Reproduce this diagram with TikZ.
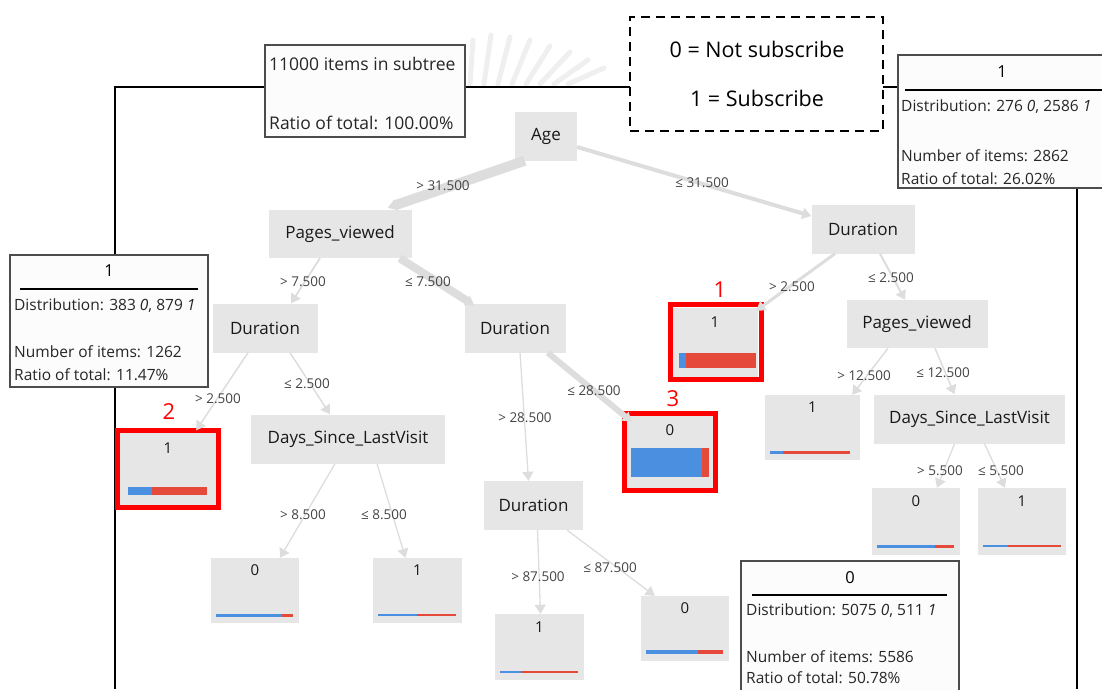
\documentclass[tikz,border=0pt]{standalone}
\usepackage{fontspec}
\setmainfont{Open Sans}
\usetikzlibrary{arrows.meta}
\definecolor{nodegray}{HTML}{E6E6E6}
\definecolor{edgegray}{HTML}{DDDDDD}
\definecolor{barblue}{HTML}{4A8FE0}
\definecolor{barred}{HTML}{E5493A}
\definecolor{labelgray}{HTML}{444444}
\definecolor{infofill}{HTML}{FCFCFC}
\definecolor{fangray}{HTML}{EFEFEF}
\begin{document}
\begin{tikzpicture}[x=1pt,y=-1pt,
  split/.style={fill=nodegray, inner sep=0, font=\fontsize{17}{20}\selectfont, text=black!90},
  leafbox/.style={fill=nodegray, inner sep=0},
  cls/.style={font=\fontsize{15}{17}\selectfont, inner sep=0, text=black!90},
  elab/.style={font=\fontsize{13.5}{15}\selectfont, text=labelgray, inner sep=1},
  conn/.style={draw=edgegray, -{Triangle[length=9pt,width=11pt]}},
  infobox/.style={draw=black!70, line width=1.3, fill=infofill, inner sep=0},
  info/.style={font=\fontsize{15.5}{18}\selectfont, anchor=west, inner sep=0, text=black!85},
  frameline/.style={line width=1.8, black},
  redbox/.style={draw=red, line width=5},
  rednum/.style={text=red, font=\fontsize{22}{25}\selectfont, inner sep=0},
  bar/.style={line width=#1},
]
\useasboundingbox (0,0) rectangle (1102,689);

% faint fan ornament behind the top frame line
\foreach \x/\dx/\ty in {470/3/40,484/7/35,498/12/37,512/18/40,526/24/46,540/30/52,554/34/60,568/36/68}{
  \draw[fangray, line width=5, line cap=round] (\x,84) -- (\x+\dx,\ty);
}

% outer frame
\coordinate (fBL) at (115,689);
\coordinate (fTL) at (115,87);
\coordinate (fTR) at (1077,87);
\coordinate (fBR) at (1077,689);
\draw[frameline] (fBL) -- (fTL) -- (fTR) -- (fBR);

% ---- split nodes ----
\node[split, minimum width=62, minimum height=49] (age) at (546,136) {Age};
\node[split, minimum width=143, minimum height=48] (pvL) at (340,234) {Pages\_viewed};
\node[split, minimum width=103, minimum height=49] (durR) at (863,229) {Duration};
\node[split, minimum width=105, minimum height=49] (durL) at (265,328) {Duration};
\node[split, minimum width=101, minimum height=49] (durM) at (515,328) {Duration};
\node[split, minimum width=141, minimum height=48] (pvR) at (917,324) {Pages\_viewed};
\node[split, minimum width=194, minimum height=49] (dslL) at (348,439) {Days\_Since\_LastVisit};
\node[split, minimum width=191, minimum height=49] (dslR) at (969.5,419) {Days\_Since\_LastVisit};
\node[split, minimum width=99, minimum height=49] (durLo) at (533.5,505.5) {Duration};

% ---- leaves ----
% highlighted leaf 1
\node[leafbox, minimum width=86, minimum height=70] (lfA) at (715,343) {};
\node[cls] (lfAc) at (715,322) {1};
\fill[barblue] (679,353) rectangle (686,368);
\fill[barred] (686,353) rectangle (756,368);
\draw[redbox] (670.5,304.5) rectangle (761.5,379.5);
\node[rednum] (rA) at (720,290) {1};

% highlighted leaf 2
\node[leafbox, minimum width=96, minimum height=73] (lfB) at (168,469) {};
\node[cls] (lfBc) at (168,448) {1};
\fill[barblue] (128,487) rectangle (152,495);
\fill[barred] (152,487) rectangle (207,495);
\draw[redbox] (117.5,430.5) rectangle (218.5,507.5);
\node[rednum] (rB) at (169,412) {2};

% highlighted leaf 3
\node[leafbox, minimum width=86, minimum height=72] (lfC) at (670,452) {};
\node[cls] (lfCc) at (670,430) {0};
\fill[barblue] (631,448) rectangle (702,477);
\fill[barred] (702,448) rectangle (709,477);
\draw[redbox] (624.5,413.5) rectangle (715.5,490.5);
\node[rednum] (rC) at (673,399) {3};

% plain leaves
\node[leafbox, minimum width=95, minimum height=65] (lfD) at (812.5,427.5) {};
\node[cls] (lfDc) at (812.5,407) {1};
\draw[bar=3, barblue] (770,452) -- (783,452);
\draw[bar=3, barred] (783,452) -- (850,452);

\node[leafbox, minimum width=88, minimum height=67] (lfE) at (916,521.5) {};
\node[cls] (lfEc) at (916,501) {0};
\draw[bar=3, barblue] (877,546) -- (935,546);
\draw[bar=3, barred] (935,546) -- (954,546);

\node[leafbox, minimum width=88, minimum height=67] (lfF) at (1022,521.5) {};
\node[cls] (lfFc) at (1022,501) {1};
\draw[bar=2.5, barblue] (983,546) -- (1008,546);
\draw[bar=2.5, barred] (1008,546) -- (1061,546);

\node[leafbox, minimum width=88, minimum height=65] (lfG) at (255,590.5) {};
\node[cls] (lfGc) at (255,570) {0};
\draw[bar=3, barblue] (216,615) -- (282,615);
\draw[bar=3, barred] (282,615) -- (293,615);

\node[leafbox, minimum width=89, minimum height=65] (lfH) at (417.5,590.5) {};
\node[cls] (lfHc) at (417.5,570) {1};
\draw[bar=2.5, barblue] (378,615) -- (417,615);
\draw[bar=2.5, barred] (417,615) -- (456,615);

\node[leafbox, minimum width=89, minimum height=66] (lfI) at (539.5,647) {};
\node[cls] (lfIc) at (539.5,627) {1};
\draw[bar=2.5, barblue] (500,672) -- (521,672);
\draw[bar=2.5, barred] (521,672) -- (578,672);

\node[leafbox, minimum width=88, minimum height=65] (lfJ) at (685,628.5) {};
\node[cls] (lfJc) at (685,608) {0};
\draw[bar=4, barblue] (646,652) -- (698,652);
\draw[bar=4, barred] (698,652) -- (723,652);

% ---- connectors ----
\draw[conn, line width=10] ([xshift=10]age.south west) -- ([xshift=-24,yshift=2]pvL.north east);
\draw[conn, line width=4] ([yshift=-11]age.east) -- ([yshift=13]durR.west);
\draw[conn, line width=1.8] ([xshift=-20]pvL.south) -- ([xshift=26]durL.north);
\draw[conn, line width=8] ([xshift=-12]pvL.south east) -- ([xshift=10,yshift=-2]durM.north west);
\draw[conn, line width=1.5] ([xshift=-17]durL.south) -- ([xshift=-20,yshift=2]lfB.north east);
\draw[conn, line width=1.5] ([xshift=25]durL.south) -- ([xshift=-18]dslL.north);
\draw[conn, line width=1.3] ([xshift=5]durM.south) -- ([xshift=-5]durLo.north);
\draw[conn, line width=6] ([xshift=-18]durM.south east) -- ([xshift=5,yshift=-6]lfC.north west);
\draw[conn, line width=3] ([xshift=-28]durR.south) -- ([xshift=-2,yshift=-3]lfA.north east);
\draw[conn, line width=2] ([xshift=17]durR.south) -- ([xshift=-12]pvR.north);
\draw[conn, line width=1.5] ([xshift=-29]pvR.south) -- ([xshift=-8]lfD.north east);
\draw[conn, line width=1.5] ([xshift=18]pvR.south) -- ([xshift=-15]dslR.north);
\draw[conn, line width=1.3] ([xshift=-15]dslR.south) -- ([xshift=21]lfE.north);
\draw[conn, line width=1.3] ([xshift=15]dslR.south) -- ([xshift=-17]lfF.north);
\draw[conn, line width=1.3] ([xshift=-13]dslL.south) -- ([xshift=25]lfG.north);
\draw[conn, line width=1.3] ([xshift=29]dslL.south) -- ([xshift=-12]lfH.north);
\draw[conn, line width=1.3] ([xshift=4]durLo.south) -- ([xshift=1]lfI.north);
\draw[conn, line width=1.3] ([xshift=-16]durLo.south east) -- ([xshift=14]lfJ.north west);

% ---- split labels ----
\node[elab] (e1) at (443,186) {> 31.500};
\node[elab] (e2) at (702,183) {≤ 31.500};
\node[elab] (e3) at (303,282) {> 7.500};
\node[elab] (e4) at (428,282) {≤ 7.500};
\node[elab] (e5) at (218,399) {> 2.500};
\node[elab] (e6) at (307,384) {≤ 2.500};
\node[elab] (e7) at (525,418) {> 28.500};
\node[elab] (e8) at (594,391) {≤ 28.500};
\node[elab] (e9) at (792,287) {> 2.500};
\node[elab] (e10) at (891,278) {≤ 2.500};
\node[elab] (e11) at (864,376) {> 12.500};
\node[elab] (e12) at (943,373) {≤ 12.500};
\node[elab] (e13) at (940,471) {> 5.500};
\node[elab] (e14) at (1001,471) {≤ 5.500};
\node[elab] (e15) at (303,515) {> 8.500};
\node[elab] (e16) at (384,515) {≤ 8.500};
\node[elab] (e17) at (538,577) {> 87.500};
\node[elab] (e18) at (610,568) {≤ 87.500};

% ---- info boxes ----
% root summary
\node[infobox, minimum width=200, minimum height=92] (root) at (365,91) {};
\node[info, font=\fontsize{17.5}{20}\selectfont] (rootA) at (269,64) {11000 items in subtree};
\node[info, font=\fontsize{17.5}{20}\selectfont] (rootB) at (269,123) {Ratio of total: 100.00\%};

% legend
\node[draw, dashed, dash pattern=on 9pt off 6pt, line width=2.5, fill=white,
      minimum width=253, minimum height=114, inner sep=0] (legend) at (756.5,74) {};
\node[font=\fontsize{21.5}{24}\selectfont, inner sep=0] (lg0) at (757,49) {0 = Not subscribe};
\node[font=\fontsize{21.5}{24}\selectfont, inner sep=0] (lg1) at (757,98) {1 = Subscribe};
\draw[frameline] (legend.east |- fTR) -- (898,87);

% right subtree summary
\node[infobox, minimum width=230, minimum height=133] (sumR) at (1013,121.5) {};
\node[inner sep=0, font=\fontsize{16.5}{19}\selectfont] (sumRc) at (1002,72) {1};
\draw[line width=2] (905,90) -- (1110,90);
\node[info] (sumR1) at (901,107) {Distribution: 276 \textit{0}, 2586 \textit{1}};
\node[info] (sumR2) at (901,156) {Number of items: 2862};
\node[info] (sumR3) at (901,179) {Ratio of total: 26.02\%};

% left subtree summary
\node[infobox, minimum width=198, minimum height=132] (sumL) at (109,321) {};
\node[inner sep=0, font=\fontsize{16.5}{19}\selectfont] (sumLc) at (109,271) {1};
\draw[line width=2] (20,289) -- (198,289);
\node[info] (sumL1) at (14,306) {Distribution: 383 \textit{0}, 879 \textit{1}};
\node[info] (sumL2) at (14,352) {Number of items: 1262};
\node[info] (sumL3) at (14,375) {Ratio of total: 11.47\%};

% lower subtree summary
\draw[line width=2, barblue] (742,561) -- (752,561);
\draw[line width=2, barred] (752,561) -- (757,561);
\node[infobox, minimum width=218, minimum height=140] (sumM) at (850,631) {};
\node[inner sep=0, font=\fontsize{16.5}{19}\selectfont] (sumMc) at (850,578) {0};
\draw[line width=2] (752,595) -- (947,595);
\node[info] (sumM1) at (746,611) {Distribution: 5075 \textit{0}, 511 \textit{1}};
\node[info] (sumM2) at (746,657) {Number of items: 5586};
\node[info] (sumM3) at (746,678) {Ratio of total: 50.78\%};
\end{tikzpicture}
\end{document}
